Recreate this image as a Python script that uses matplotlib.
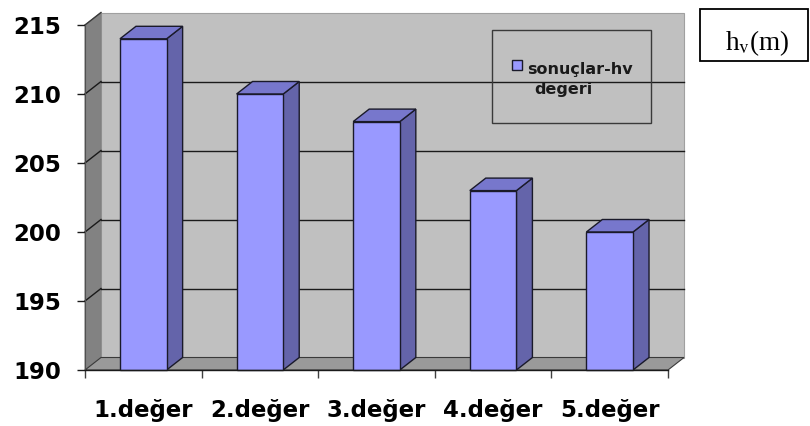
import matplotlib
matplotlib.use("Agg")
import matplotlib.pyplot as plt
from matplotlib.patches import Polygon, Rectangle
import numpy as np

# Data
categories = ["1.değer", "2.değer", "3.değer", "4.değer", "5.değer"]
values = [214, 210, 208, 203, 200]
y_ticks = [190, 195, 200, 205, 210, 215]
series_label = "sonuçlar-hv\ndeğeri"
unit_label = r"h$_{\rm v}$(m)"

W, H = 810, 426
fig = plt.figure(figsize=(W / 100, H / 100), dpi=100)
fig.patch.set_facecolor("white")

def fx(px):
    return px / W

def fy(py):
    return 1 - py / H

# front plane of the 3-D chart
ax_l, ax_r, ax_t, ax_b = 85, 668, 25, 370
ax = fig.add_axes([fx(ax_l), fy(ax_b), fx(ax_r - ax_l), (ax_b - ax_t) / H])
ax.set_xlim(-0.5, 4.5)
ax.set_ylim(190, 215)
ax.patch.set_visible(False)

# depth of the 3-D box, in data units
dpx, dpy = 16, 12.5
ddx = dpx / ((ax_r - ax_l) / 5)
ddy = dpy / ((ax_b - ax_t) / 25)

x0, x1 = -0.5, 4.5
y0, y1 = 190, 215

wall_kw = dict(clip_on=False, linewidth=0.8)
# back wall
ax.add_patch(Polygon([(x0 + ddx, y0 + ddy), (x1 + ddx, y0 + ddy),
                      (x1 + ddx, y1 + ddy), (x0 + ddx, y1 + ddy)],
                     facecolor="#c0c0c0", edgecolor="#a0a0a0", zorder=0.5, **wall_kw))
# left side wall
ax.add_patch(Polygon([(x0, y0), (x0 + ddx, y0 + ddy), (x0 + ddx, y1 + ddy), (x0, y1)],
                     facecolor="#828282", edgecolor="#808080", zorder=0.5, **wall_kw))
# floor
ax.add_patch(Polygon([(x0, y0), (x1, y0), (x1 + ddx, y0 + ddy), (x0 + ddx, y0 + ddy)],
                     facecolor="#9a9a9a", edgecolor="#3a3a3a", zorder=0.6, **wall_kw))

# gridlines on back and left walls
for v in y_ticks[1:-1]:
    ax.plot([x0 + ddx, x1 + ddx], [v + ddy, v + ddy], color="#1a1a1a", lw=1.0,
            zorder=0.8, clip_on=False)
    ax.plot([x0, x0 + ddx], [v, v + ddy], color="#1a1a1a", lw=1.0,
            zorder=0.8, clip_on=False)
ax.plot([x0, x0 + ddx], [y1, y1 + ddy], color="#3a3a3a", lw=1.0, zorder=0.8, clip_on=False)

# bars
xs = np.arange(len(categories))
bw = 0.4
front_c, side_c, top_c, edge_c = "#9999ff", "#6464aa", "#7777cc", "#1a1a2a"
ax.bar(xs, np.array(values) - y0, bottom=y0, width=bw, color=front_c,
       edgecolor=edge_c, linewidth=1.0, zorder=3, clip_on=False)
for x, v in zip(xs, values):
    xr, xl = x + bw / 2, x - bw / 2
    ax.add_patch(Polygon([(xr, y0), (xr + ddx, y0 + ddy), (xr + ddx, v + ddy), (xr, v)],
                         facecolor=side_c, edgecolor=edge_c, lw=1.0, zorder=2.5,
                         clip_on=False))
    ax.add_patch(Polygon([(xl, v), (xr, v), (xr + ddx, v + ddy), (xl + ddx, v + ddy)],
                         facecolor=top_c, edgecolor=edge_c, lw=1.0, zorder=2.5,
                         clip_on=False))

# axes, ticks and labels
for s in ["top", "right"]:
    ax.spines[s].set_visible(False)
ax.spines["left"].set_color("#505050")
ax.spines["left"].set_linewidth(0.8)
ax.spines["bottom"].set_color("#1a1a1a")
ax.spines["bottom"].set_linewidth(1.0)
ax.spines["left"].set_zorder(4)
ax.spines["bottom"].set_zorder(4)

lab_font = dict(family="DejaVu Sans", weight="bold", size=16.5)
ax.set_yticks(y_ticks)
ax.set_yticklabels([str(t) for t in y_ticks], **lab_font)
ax.tick_params(axis="y", direction="out", length=6, width=1, color="#1a1a1a", pad=11)

ax.set_xticks(xs)
ax.set_xticklabels(categories, **lab_font)
ax.set_xticks(np.arange(-0.5, 5, 1), minor=True)
ax.tick_params(axis="x", which="major", length=0, pad=21)
ax.tick_params(axis="x", which="minor", direction="out", length=6, width=1,
               color="#404040")

# legend box (unfilled)
fig.patches.append(Rectangle((fx(492), fy(123)), fx(159), 93 / H, transform=fig.transFigure,
                             facecolor="none", edgecolor="#3a3a3a", lw=1.0, zorder=5))
fig.patches.append(Rectangle((fx(512), fy(70)), fx(10), 10 / H, transform=fig.transFigure,
                             facecolor=front_c, edgecolor="#1a1a2a", lw=1.0, zorder=6))
line1, line2 = series_label.split("\n")
leg_font = dict(family="DejaVu Sans", weight="bold", size=11.5, color="#1a1a1a")
fig.text(fx(527), fy(74), line1, ha="left", va="baseline", zorder=6, **leg_font)
fig.text(fx(534), fy(94), line2, ha="left", va="baseline", zorder=6, **leg_font)

# unit box
plt.rcParams["mathtext.fontset"] = "stix"
fig.patches.append(Rectangle((fx(700), fy(61)), fx(108), 52 / H, transform=fig.transFigure,
                             facecolor="white", edgecolor="black", lw=1.3, zorder=5))
fig.text(fx(757), fy(50), unit_label, ha="center", va="baseline",
         family="Liberation Serif", size=19.5, zorder=6)

fig.savefig("out.png", dpi=100)
